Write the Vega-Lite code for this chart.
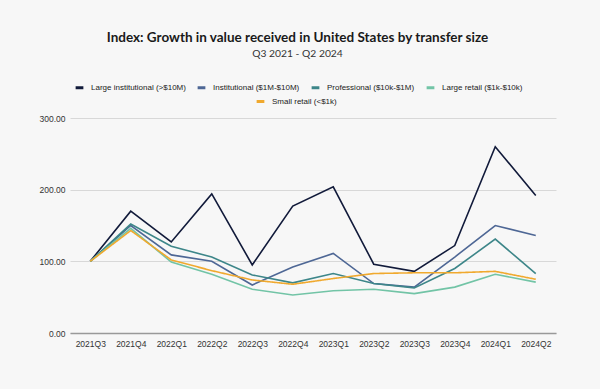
{
  "$schema": "https://vega.github.io/schema/vega-lite/v6.json",
  "autosize": "none",
  "width": 486,
  "height": 215,
  "padding": {"left": 70, "top": 118, "right": 44, "bottom": 56},
  "background": "#f7f7f7",
  "title": {
    "text": "Index: Growth in value received in United States by transfer size",
    "subtitle": "Q3 2021 - Q2 2024",
    "font": "Lato",
    "fontSize": 13.5,
    "fontWeight": "bold",
    "color": "#1a1a1a",
    "subtitleFont": "Lato",
    "subtitleFontSize": 10.3,
    "subtitleColor": "#333",
    "subtitlePadding": 4,
    "anchor": "middle",
    "frame": "bounds",
    "offset": 23
  },
  "data": {
    "values": [
      {"q": "2021Q3", "series": "Large institutional (>$10M)", "v": 100},
      {"q": "2021Q4", "series": "Large institutional (>$10M)", "v": 170},
      {"q": "2022Q1", "series": "Large institutional (>$10M)", "v": 127},
      {"q": "2022Q2", "series": "Large institutional (>$10M)", "v": 194},
      {"q": "2022Q3", "series": "Large institutional (>$10M)", "v": 95},
      {"q": "2022Q4", "series": "Large institutional (>$10M)", "v": 177},
      {"q": "2023Q1", "series": "Large institutional (>$10M)", "v": 204},
      {"q": "2023Q2", "series": "Large institutional (>$10M)", "v": 96},
      {"q": "2023Q3", "series": "Large institutional (>$10M)", "v": 86},
      {"q": "2023Q4", "series": "Large institutional (>$10M)", "v": 122},
      {"q": "2024Q1", "series": "Large institutional (>$10M)", "v": 260},
      {"q": "2024Q2", "series": "Large institutional (>$10M)", "v": 192},
      {"q": "2021Q3", "series": "Institutional ($1M-$10M)", "v": 100},
      {"q": "2021Q4", "series": "Institutional ($1M-$10M)", "v": 150},
      {"q": "2022Q1", "series": "Institutional ($1M-$10M)", "v": 109},
      {"q": "2022Q2", "series": "Institutional ($1M-$10M)", "v": 100},
      {"q": "2022Q3", "series": "Institutional ($1M-$10M)", "v": 67},
      {"q": "2022Q4", "series": "Institutional ($1M-$10M)", "v": 92},
      {"q": "2023Q1", "series": "Institutional ($1M-$10M)", "v": 111},
      {"q": "2023Q2", "series": "Institutional ($1M-$10M)", "v": 69},
      {"q": "2023Q3", "series": "Institutional ($1M-$10M)", "v": 64},
      {"q": "2023Q4", "series": "Institutional ($1M-$10M)", "v": 106},
      {"q": "2024Q1", "series": "Institutional ($1M-$10M)", "v": 150},
      {"q": "2024Q2", "series": "Institutional ($1M-$10M)", "v": 136},
      {"q": "2021Q3", "series": "Professional ($10k-$1M)", "v": 100},
      {"q": "2021Q4", "series": "Professional ($10k-$1M)", "v": 152},
      {"q": "2022Q1", "series": "Professional ($10k-$1M)", "v": 121},
      {"q": "2022Q2", "series": "Professional ($10k-$1M)", "v": 106},
      {"q": "2022Q3", "series": "Professional ($10k-$1M)", "v": 81},
      {"q": "2022Q4", "series": "Professional ($10k-$1M)", "v": 70},
      {"q": "2023Q1", "series": "Professional ($10k-$1M)", "v": 83},
      {"q": "2023Q2", "series": "Professional ($10k-$1M)", "v": 69},
      {"q": "2023Q3", "series": "Professional ($10k-$1M)", "v": 63},
      {"q": "2023Q4", "series": "Professional ($10k-$1M)", "v": 90},
      {"q": "2024Q1", "series": "Professional ($10k-$1M)", "v": 131},
      {"q": "2024Q2", "series": "Professional ($10k-$1M)", "v": 83},
      {"q": "2021Q3", "series": "Large retail ($1k-$10k)", "v": 100},
      {"q": "2021Q4", "series": "Large retail ($1k-$10k)", "v": 146},
      {"q": "2022Q1", "series": "Large retail ($1k-$10k)", "v": 99},
      {"q": "2022Q2", "series": "Large retail ($1k-$10k)", "v": 82},
      {"q": "2022Q3", "series": "Large retail ($1k-$10k)", "v": 61},
      {"q": "2022Q4", "series": "Large retail ($1k-$10k)", "v": 53},
      {"q": "2023Q1", "series": "Large retail ($1k-$10k)", "v": 59},
      {"q": "2023Q2", "series": "Large retail ($1k-$10k)", "v": 61},
      {"q": "2023Q3", "series": "Large retail ($1k-$10k)", "v": 55},
      {"q": "2023Q4", "series": "Large retail ($1k-$10k)", "v": 64},
      {"q": "2024Q1", "series": "Large retail ($1k-$10k)", "v": 82},
      {"q": "2024Q2", "series": "Large retail ($1k-$10k)", "v": 71},
      {"q": "2021Q3", "series": "Small retail (<$1k)", "v": 100},
      {"q": "2021Q4", "series": "Small retail (<$1k)", "v": 143},
      {"q": "2022Q1", "series": "Small retail (<$1k)", "v": 102},
      {"q": "2022Q2", "series": "Small retail (<$1k)", "v": 87},
      {"q": "2022Q3", "series": "Small retail (<$1k)", "v": 74},
      {"q": "2022Q4", "series": "Small retail (<$1k)", "v": 68},
      {"q": "2023Q1", "series": "Small retail (<$1k)", "v": 76},
      {"q": "2023Q2", "series": "Small retail (<$1k)", "v": 83},
      {"q": "2023Q3", "series": "Small retail (<$1k)", "v": 84},
      {"q": "2023Q4", "series": "Small retail (<$1k)", "v": 84},
      {"q": "2024Q1", "series": "Small retail (<$1k)", "v": 86},
      {"q": "2024Q2", "series": "Small retail (<$1k)", "v": 75}
    ]
  },
  "encoding": {
    "x": {
      "field": "q",
      "type": "ordinal",
      "title": null,
      "scale": {"paddingInner": 1, "paddingOuter": 0.5},
      "axis": {
        "labelAngle": 0,
        "labelFont": "Liberation Sans",
        "labelFontSize": 8.5,
        "labelColor": "#333",
        "labelPadding": 6,
        "ticks": false,
        "domainColor": "#999",
        "domainWidth": 1.5,
        "grid": false
      }
    },
    "y": {
      "field": "v",
      "type": "quantitative",
      "title": null,
      "scale": {"domain": [0, 300], "nice": false},
      "axis": {
        "values": [0, 100, 200, 300],
        "format": ".2f",
        "labelFont": "Liberation Sans",
        "labelFontSize": 8.5,
        "labelColor": "#333",
        "labelPadding": 5,
        "ticks": false,
        "domain": false,
        "gridColor": "#d8d8d8",
        "gridWidth": 1
      }
    }
  },
  "layer": [
    {
      "transform": [{"filter": "datum.series !== 'Small retail (<$1k)'"}],
      "mark": {"type": "line", "strokeWidth": 1.6},
      "encoding": {
        "color": {
          "field": "series",
          "type": "nominal",
          "sort": ["Large institutional (>$10M)", "Institutional ($1M-$10M)", "Professional ($10k-$1M)", "Large retail ($1k-$10k)"],
          "scale": {
            "domain": ["Large institutional (>$10M)", "Institutional ($1M-$10M)", "Professional ($10k-$1M)", "Large retail ($1k-$10k)"],
            "range": ["#111a3a", "#4e6795", "#3d8689", "#72c4a6"]
          },
          "legend": {"title": null, "orient": "none", "direction": "horizontal", "legendX": 4, "legendY": -36}
        }
      }
    },
    {
      "transform": [{"filter": "datum.series === 'Small retail (<$1k)'"}],
      "mark": {"type": "line", "strokeWidth": 1.6},
      "encoding": {
        "strokeDash": {
          "field": "series",
          "type": "nominal",
          "scale": {"domain": ["Small retail (<$1k)"], "range": [[1, 0]]},
          "legend": null
        },
        "stroke": {
          "field": "series",
          "type": "nominal",
          "scale": {"domain": ["Small retail (<$1k)"], "range": ["#f0a92e"]},
          "legend": {"title": null, "orient": "none", "direction": "horizontal", "legendX": 185, "legendY": -22}
        }
      }
    }
  ],
  "config": {
    "view": {"stroke": null},
    "legend": {
      "symbolType": "stroke",
      "symbolStrokeWidth": 3,
      "symbolSize": 60,
      "labelFont": "Liberation Sans",
      "labelFontSize": 8,
      "labelColor": "#222",
      "columnPadding": 5,
      "labelOffset": 6
    }
  }
}
